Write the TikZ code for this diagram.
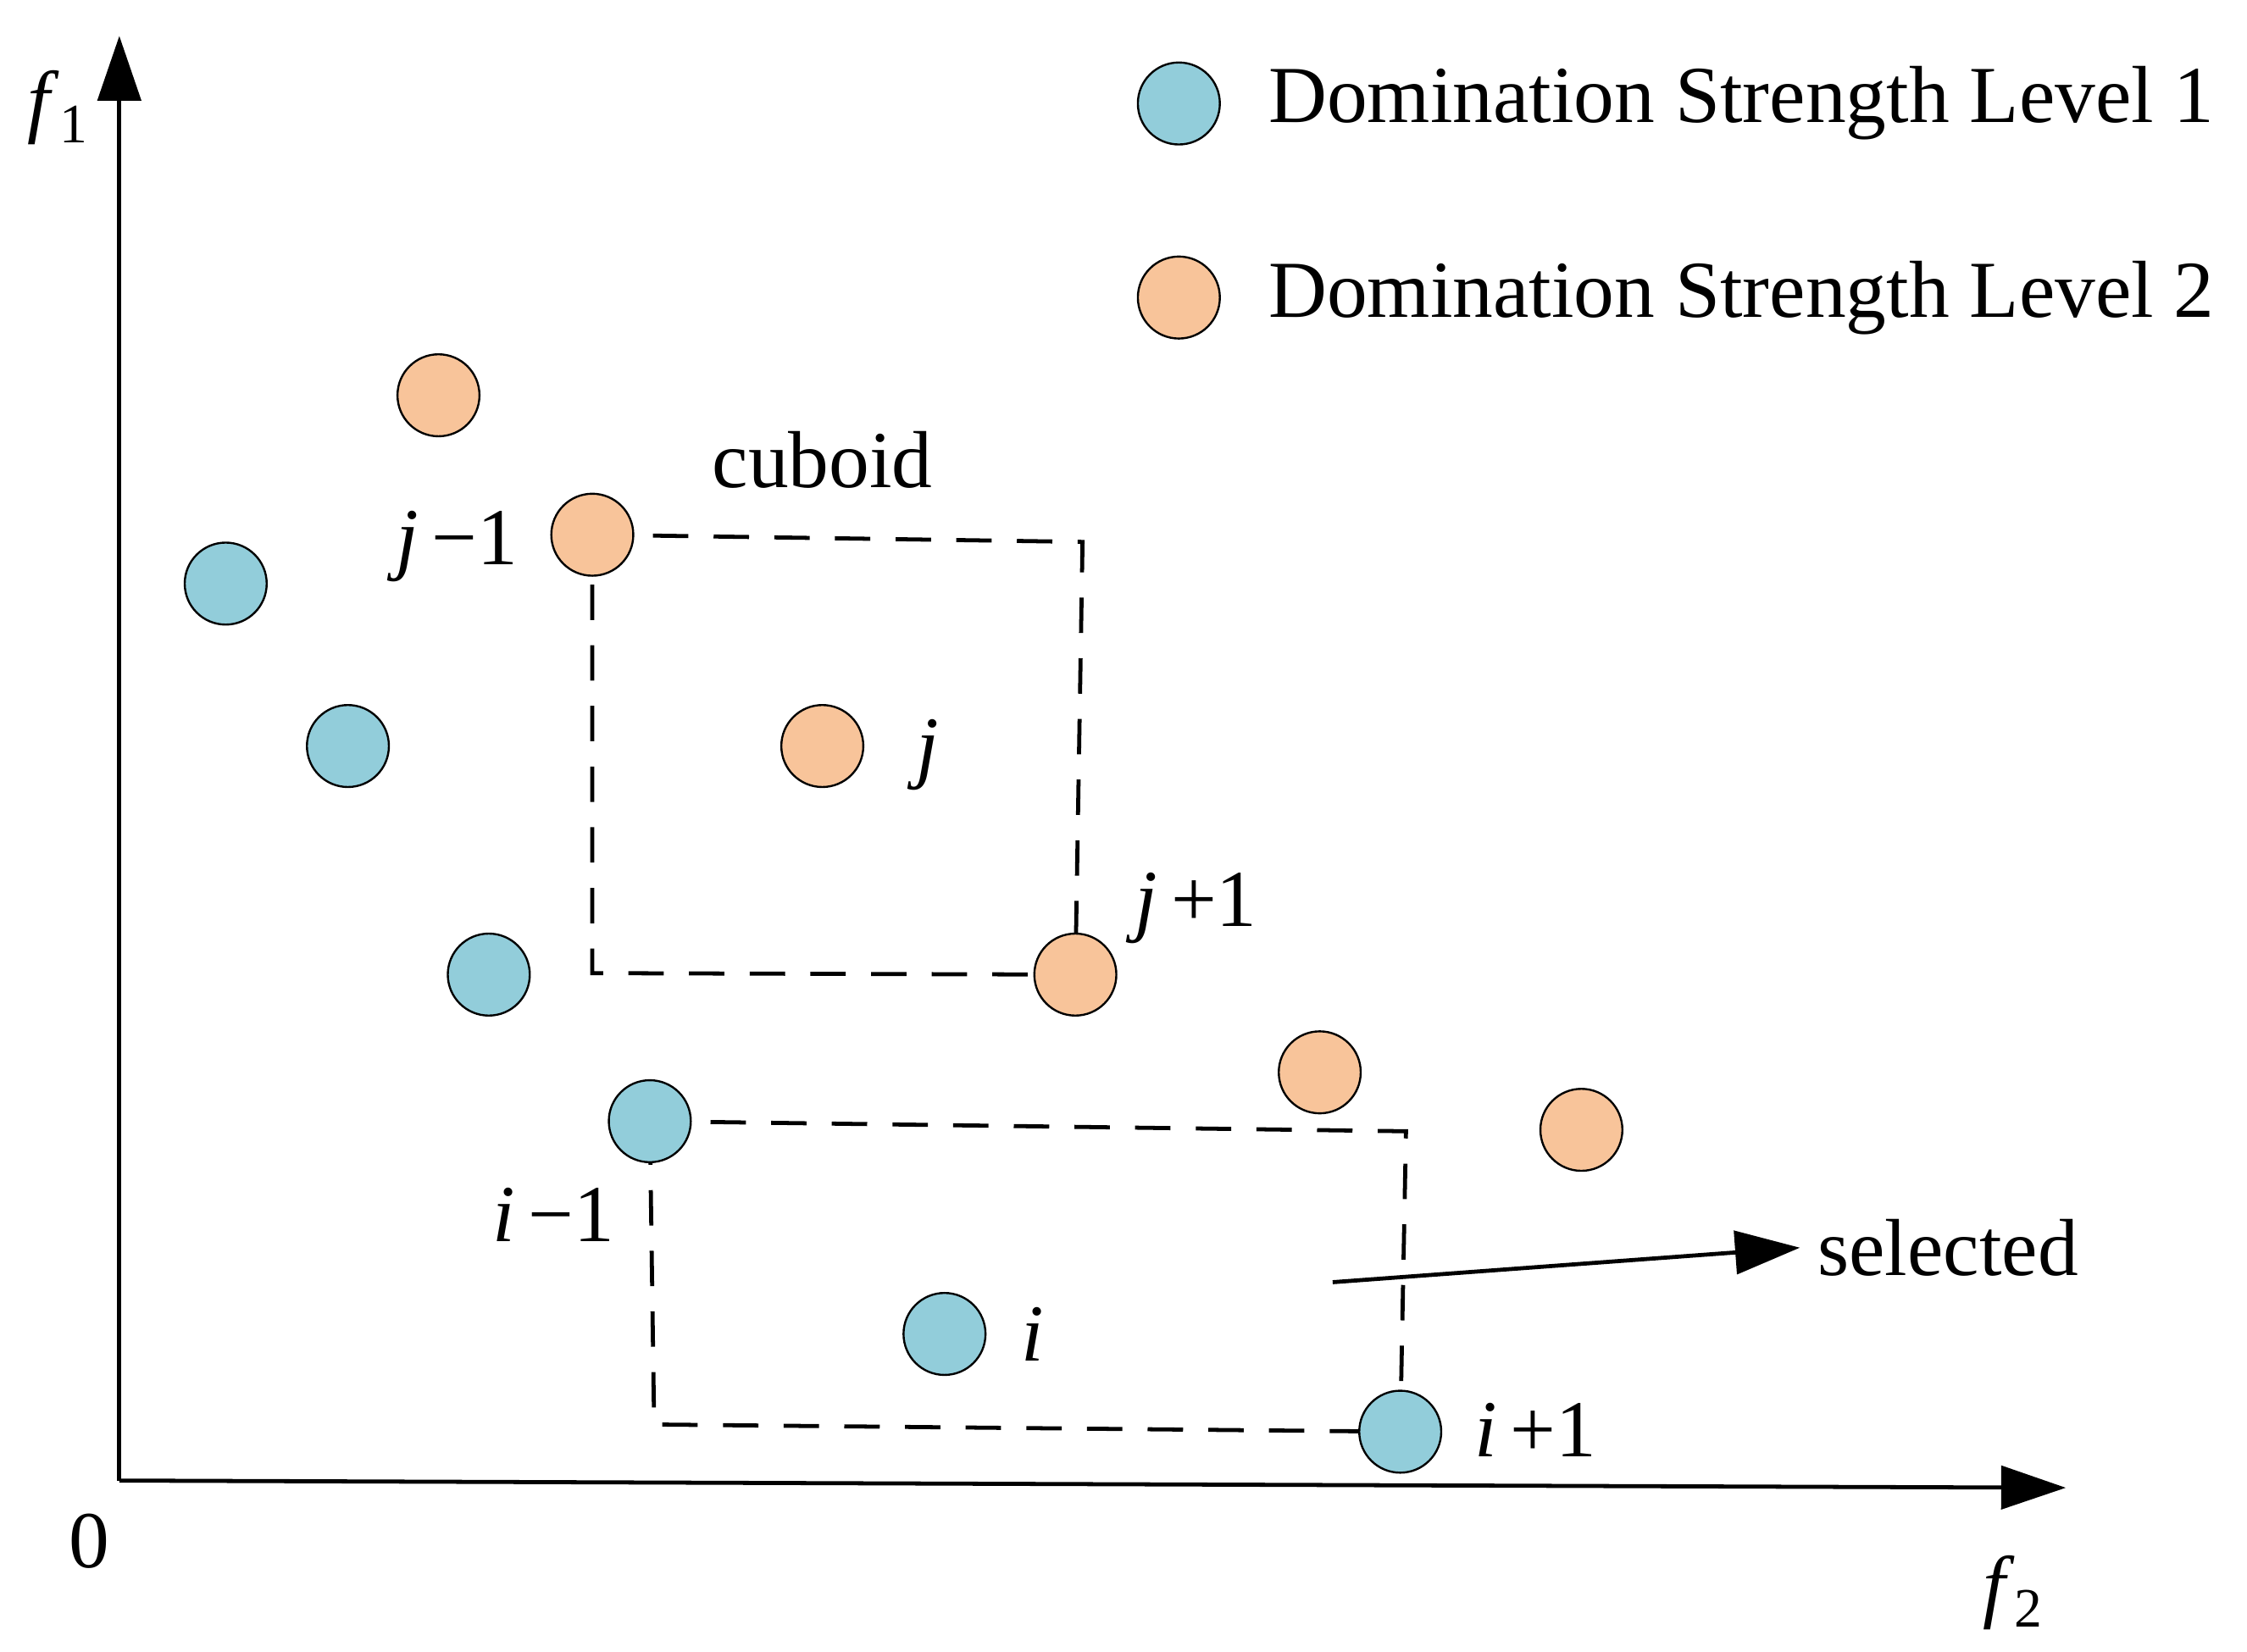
\documentclass[tikz,border=0pt]{standalone}
\usepackage{fontspec}
\setmainfont{Liberation Serif}
\usetikzlibrary{arrows.meta}
\tikzset{
  lvlone/.style={circle, draw, fill={rgb,255:red,146;green,205;blue,218}, minimum size=0.57cm, inner sep=0pt},
  lvltwo/.style={circle, draw, fill={rgb,255:red,248;green,196;blue,154}, minimum size=0.57cm, inner sep=0pt},
  cub/.style={dashed, thick, dash pattern=on 7pt off 5pt},
  lbl/.style={font=\fontsize{16}{19}\selectfont}
}
\newcommand{\sbs}[1]{\raisebox{-0.4ex}{\fontsize{11}{12}\selectfont #1}}
\begin{document}
\begin{tikzpicture}[x=0.01cm, y=-0.01cm, >={Triangle[length=0.45cm,width=0.3cm]}]
  \useasboundingbox (0,0) rectangle (1563,1149);
  % axes
  \coordinate (O) at (83,1030);
  \coordinate (Ytop) at (83,25);
  \coordinate (Xend) at (1437,1035);
  \draw[thick,->] (O) -- (Ytop);
  \draw[thick,->] (O) -- (Xend);
  \node[lbl] (lf1) at (40,75) {\textit{f}\sbs{1}};
  \node[lbl] (lf2) at (1400,1108) {\textit{f}\sbs{2}};
  \node[lbl] (lzero) at (62,1072) {0};
  % cuboids
  \coordinate (jtr) at (753,377);
  \coordinate (jbl) at (412,677);
  \coordinate (itr) at (978,787);
  \coordinate (ibl) at (455,991);
  \draw[cub] (412,372) -- (jtr) -- (748,678) -- (jbl) -- cycle;
  \draw[cub] (452,780) -- (itr) -- (974,996) -- (ibl) -- cycle;
  % points
  \node[lvltwo] (p1) at (305,275) {};
  \node[lvltwo] (jm) at (412,372) {};
  \node[lvltwo] (j) at (572,519) {};
  \node[lvltwo] (jp) at (748,678) {};
  \node[lvltwo] (p2) at (918,746) {};
  \node[lvltwo] (p3) at (1100,786) {};
  \node[lvlone] (q1) at (157,406) {};
  \node[lvlone] (q2) at (242,519) {};
  \node[lvlone] (q3) at (340,678) {};
  \node[lvlone] (im) at (452,780) {};
  \node[lvlone] (i) at (657,928) {};
  \node[lvlone] (ip) at (974,996) {};
  % labels
  \node[lbl] (tcub) at (572,320) {cuboid};
  \node[lbl] (tjm) at (318,380) {\textit{j}\,−1};
  \node[lbl] (tj) at (645,525) {\textit{j}};
  \node[lbl] (tjp) at (832,632) {\textit{j}\,+1};
  \node[lbl] (tim) at (385,845) {\textit{i}\,−1};
  \node[lbl] (ti) at (718,928) {\textit{i}};
  \node[lbl] (tip) at (1068,995) {\textit{i}\,+1};
  \node[lbl] (tsel) at (1355,868) {selected};
  \coordinate (sstart) at (927,892);
  \draw[thick,->] (sstart) -- (tsel.west);
  % legend
  \node[lvlone] (leg1) at (820,72) {};
  \node[lvltwo] (leg2) at (820,207) {};
  \node[lbl, anchor=west] (tleg1) at (870,72) {Domination Strength Level 1};
  \node[lbl, anchor=west] (tleg2) at (870,207) {Domination Strength Level 2};
\end{tikzpicture}
\end{document}
